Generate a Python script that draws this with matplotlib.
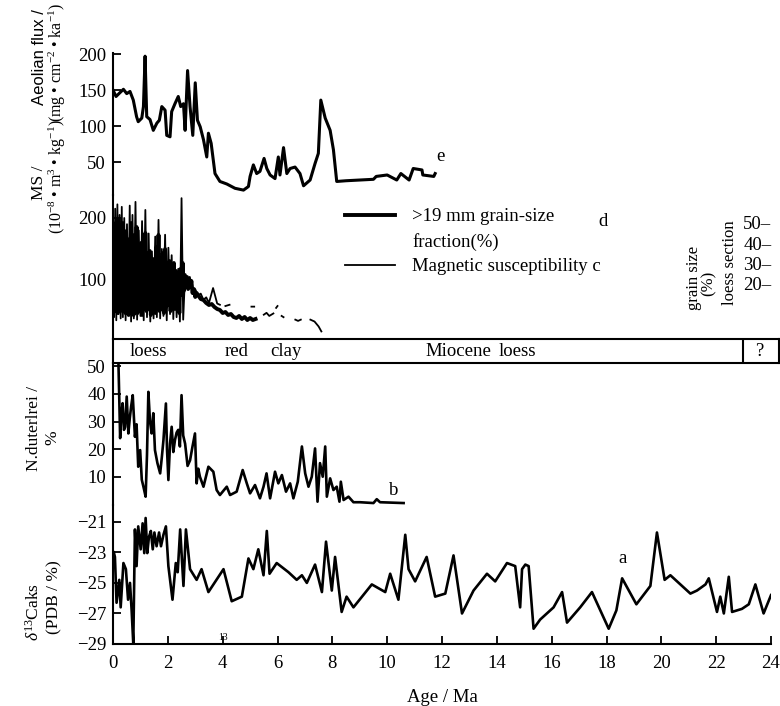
import numpy as np
import matplotlib
matplotlib.use('Agg')
import matplotlib.pyplot as plt

plt.rcParams['font.family'] = ['Liberation Serif', 'DejaVu Serif']
plt.rcParams['mathtext.fontset'] = 'custom'
plt.rcParams['mathtext.rm'] = 'Liberation Serif'
plt.rcParams['mathtext.it'] = 'Liberation Serif:italic'
plt.rcParams['mathtext.bf'] = 'Liberation Serif:bold'
plt.rcParams['axes.linewidth'] = 1.5

# ---- data ----
# e: aeolian flux
e_age = [0.0, 0.11, 0.38, 0.5, 0.62, 0.74, 0.86, 0.92, 1.05, 1.11, 1.17, 1.23, 1.35, 1.47, 1.6, 1.69,
         1.78, 1.9, 1.96, 2.08, 2.14, 2.26, 2.38, 2.47, 2.57, 2.63, 2.72, 2.81, 2.91, 3.0, 3.08, 3.18,
         3.3, 3.42, 3.48, 3.58, 3.72, 3.9, 4.15, 4.45, 4.76, 4.94, 5.0, 5.12, 5.24, 5.36, 5.51, 5.61,
         5.73, 5.91, 6.03, 6.09, 6.22, 6.34, 6.46, 6.64, 6.82, 6.95, 7.19, 7.37, 7.49, 7.58, 7.74, 7.92,
         8.04, 8.16, 8.5, 9.0, 9.5, 9.6, 10.0, 10.35, 10.5, 10.8, 10.95, 11.27, 11.3, 11.7, 11.75]
e_val = [150, 141, 151, 145, 148, 136, 113, 106, 111, 127, 197, 113, 109, 94, 104, 108,
         127, 122, 87, 85, 120, 131, 141, 127, 131, 94, 177, 127, 87, 160, 108, 99,
         81, 57, 90, 76, 34, 23, 19.5, 13.5, 11, 16, 30, 46, 34, 37, 55, 41,
         32, 27, 57, 32, 70, 34, 41, 43, 34, 17, 25, 48, 62, 136, 111, 94,
         67, 23, 24, 25, 26, 30, 32, 25, 34, 25, 41, 39, 32, 30, 34]

# c: magnetic susceptibility (gaps = nan)
nan = np.nan
ms_age = [0.0, 0.04, 0.08, 0.12, 0.16, 0.2, 0.24, 0.28, 0.32, 0.36, 0.41, 0.46, 0.51, 0.56, 0.61, 0.66,
          0.71, 0.76, 0.82, 0.88, 0.94, 1.0, 1.06, 1.12, 1.18, 1.24, 1.3, 1.36, 1.42, 1.48, 1.54, 1.6,
          1.66, 1.72, 1.78, 1.84, 1.9, 1.96, 2.02, 2.08, 2.14, 2.2, 2.26, 2.32, 2.38, 2.44, 2.5, 2.56,
          2.62, 2.7, 2.8, 2.9, 3.0, 3.1, 3.2, 3.3, 3.4, 3.5, 3.65, 3.8, 3.9, 4.0, 4.1, 4.25, 4.3,
          5.05, 5.15, 5.2, 5.5, 5.6, 5.7, 5.85, 5.9, 5.95, 6.0, 6.05, 6.15, 6.22, 6.25,
          6.65, 6.75, 6.85, 6.9, 7.2, 7.35, 7.5, 7.6]
ms_val = [175, 40, 215, 35, 222, 45, 205, 38, 218, 40, 200, 35, 190, 45, 220, 33,
          205, 38, 226, 36, 180, 42, 195, 35, 213, 40, 175, 33, 146, 38, 170, 40,
          197, 38, 150, 42, 173, 35, 152, 45, 140, 37, 125, 40, 118, 33, 232, 36,
          100, 95, 105, 80, 85, 75, 78, 68, 72, 63, 87, 62, 60, nan, 58, 60, nan,
          57, 57, nan, 44, 47, 42, 46, nan, 55, 58, nan, 42, 40, nan,
          36, 34, 36, nan, 36, 33, 25, 17]

# d: >19 um grain-size fraction (%)
gs_age = [0.0, 0.02, 0.05, 0.07, 0.1, 0.12, 0.14, 0.17, 0.2, 0.22, 0.25, 0.28, 0.3, 0.33, 0.36, 0.39,
          0.42, 0.45, 0.48, 0.51, 0.54, 0.57, 0.6, 0.63, 0.66, 0.69, 0.72, 0.75, 0.78, 0.82, 0.86, 0.9,
          0.94, 0.98, 1.02, 1.06, 1.1, 1.14, 1.18, 1.22, 1.26, 1.3, 1.34, 1.38, 1.42, 1.46, 1.5, 1.54,
          1.58, 1.62, 1.66, 1.7, 1.74, 1.78, 1.82, 1.86, 1.9, 1.94, 1.98, 2.02, 2.06, 2.1, 2.14, 2.18,
          2.22, 2.26, 2.3, 2.34, 2.38, 2.42, 2.46, 2.5, 2.54, 2.58, 2.62, 2.66, 2.7, 2.74, 2.78, 2.82,
          2.86, 2.9, 2.95, 3.0, 3.05, 3.1, 3.2, 3.3, 3.4, 3.5, 3.6, 3.7, 3.8, 3.9, 4.0, 4.1,
          4.2, 4.3, 4.4, 4.5, 4.6, 4.7, 4.8, 4.9, 5.0, 5.1, 5.2]
gs_val = [40, 8, 48, 6, 50, 10, 45, 5, 52, 12, 47, 6, 44, 9, 50, 14,
          46, 5, 38, 8, 30, 4, 42, 10, 50, 6, 36, 4, 44, 8, 48, 5,
          35, 10, 40, 4, 42, 9, 45, 6, 30, 12, 36, 4, 28, 9, 32, 5,
          38, 10, 44, 6, 30, 11, 35, 5, 37, 8, 26, 12, 31, 6, 28, 10,
          30, 7, 26, 12, 25, 5, 27, 14, 30, 16, 24, 19, 23, 17, 22, 18,
          21, 15, 17, 13, 15, 14, 12, 11.5, 10, 9, 9.5, 8, 7, 6.5, 5, 5.5,
          4, 4.5, 3, 2.5, 3.5, 2, 3, 1.5, 2.5, 1.5, 2]

# b: N. dutertrei (%)
b_age = [0.2, 0.23, 0.26, 0.3, 0.35, 0.4, 0.44, 0.5, 0.56, 0.61, 0.66, 0.72, 0.8, 0.86, 0.92, 0.99,
         1.05, 1.11, 1.19, 1.24, 1.29, 1.35, 1.41, 1.47, 1.53, 1.62, 1.72, 1.78, 1.84, 1.93, 1.97, 2.02,
         2.08, 2.14, 2.2, 2.26, 2.32, 2.38, 2.44, 2.5, 2.56, 2.63, 2.72, 2.81, 2.9, 2.99, 3.05, 3.11,
         3.17, 3.3, 3.48, 3.66, 3.78, 3.9, 4.15, 4.27, 4.51, 4.73, 4.88, 5.0, 5.18, 5.36, 5.49, 5.6,
         5.73, 5.91, 6.03, 6.16, 6.31, 6.46, 6.58, 6.74, 6.89, 7.01, 7.13, 7.25, 7.37, 7.46, 7.55, 7.65,
         7.74, 7.8, 7.92, 8.04, 8.16, 8.26, 8.31, 8.41, 8.59, 8.77, 9.01, 9.5, 9.62, 9.74, 10.6]
b_val = [50.4, 37.7, 24, 32, 36.6, 27, 28, 39, 25.7, 31, 35.3, 39.5, 24.5, 29, 13.7, 19.7,
         9, 6.5, 2.9, 18, 40.7, 30, 25.7, 33, 19.7, 15, 11.3, 17, 23.3, 36.5, 20, 8.9,
         22, 28.1, 19, 23.3, 26, 27, 21, 39.5, 25, 22, 14, 16, 21, 25.7, 7.7, 13,
         10.1, 6.5, 13.7, 11.9, 5.3, 3.5, 6.5, 3.5, 4.7, 12.5, 7.7, 4.1, 7.1, 2.3, 6.5, 11.3,
         2.3, 11.9, 7.7, 10.7, 4.7, 7.7, 2.3, 8.3, 21, 11.3, 6.5, 10.1, 20.3, 1.1, 15, 10.1,
         21, 2.9, 9.5, 5.3, 6.5, 1.1, 8.3, 1.7, 2.9, 0.9, 0.9, 0.6, 2.0, 0.9, 0.6]

# a: delta13C
a_age = [0.03, 0.07, 0.13, 0.23, 0.28, 0.38, 0.47, 0.55, 0.62, 0.68, 0.74, 0.8, 0.86, 0.92, 1.01, 1.08,
         1.14, 1.19, 1.25, 1.31, 1.38, 1.45, 1.51, 1.59, 1.68, 1.75, 1.84, 1.93, 2.02, 2.17, 2.29, 2.36,
         2.45, 2.57, 2.66, 2.81, 3.05, 3.23, 3.48, 4.03, 4.33, 4.7, 4.94, 5.12, 5.3, 5.49, 5.61, 5.71,
         5.97, 6.4, 6.7, 6.89, 7.07, 7.37, 7.62, 7.77, 7.98, 8.1, 8.34, 8.52, 8.77, 9.44, 9.93, 10.11,
         10.41, 10.66, 10.78, 11.02, 11.44, 11.75, 12.12, 12.42, 12.73, 13.15, 13.64, 13.94, 14.37, 14.67,
         14.85, 14.92, 15.04, 15.16, 15.34, 15.58, 16.07, 16.38, 16.56, 17.04, 17.47, 18.08, 18.36, 18.57,
         19.09, 19.6, 19.84, 20.12, 20.33, 21.06, 21.3, 21.61, 21.73, 22.03, 22.15, 22.28, 22.46, 22.58,
         22.94, 23.19, 23.43, 23.73, 24.0]
a_val = [-23.0, -23.3, -26.3, -24.8, -26.6, -23.7, -24.1, -26.1, -25.0, -26.8, -29.0, -21.5, -23.9, -21.3, -22.8, -21.1,
         -23.05, -20.75, -23.05, -22.0, -21.6, -22.8, -21.7, -22.6, -21.7, -22.6, -21.85, -21.3, -23.9, -26.1, -23.7, -24.3,
         -21.5, -25.2, -21.5, -24.1, -24.8, -24.1, -25.6, -24.1, -26.2, -25.9, -23.4, -24.1, -22.8, -24.5, -21.6, -24.4,
         -23.7, -24.3, -24.8, -24.5, -25.0, -23.8, -25.6, -22.3, -25.5, -23.3, -26.9, -25.9, -26.6, -25.1, -25.6, -24.4,
         -26.1, -21.85, -24.1, -24.9, -23.3, -25.9, -25.7, -23.2, -27.0, -25.5, -24.4, -24.9, -23.7, -23.9,
         -26.6, -24.1, -23.8, -23.9, -28.0, -27.4, -26.6, -25.6, -27.6, -26.6, -25.6, -28.0, -26.8, -24.7,
         -26.4, -25.2, -21.7, -24.8, -24.5, -25.7, -25.5, -25.1, -24.7, -26.9, -25.9, -27.0, -24.6, -26.9,
         -26.7, -26.4, -25.1, -27.0, -25.8]

age_ticks = list(range(0, 25, 2))
e_ticks = [50, 100, 150, 200]
ms_ticks = [100, 200]
gs_ticks = [20, 30, 40, 50]
b_ticks = [10, 20, 30, 40, 50]
a_ticks = [-29, -27, -25, -23, -21]

formations = [(1.28, 'loess'), (4.5, 'red'), (6.3, 'clay'), (12.6, 'Miocene'), (14.75, 'loess'), (23.6, '?')]

# ---- layout (pixels) ----
W, H = 780, 706
FS = 13.5
LS = 11.5


def box(x0, y0, x1, y1):
    return [x0 / W, 1 - y1 / H, (x1 - x0) / W, (y1 - y0) / H]


def ftxt(x, y, s, **kw):
    kw.setdefault('ha', 'center')
    kw.setdefault('va', 'center')
    kw.setdefault('fontsize', FS)
    fig.text(x / W, 1 - y / H, s, **kw)


fig = plt.figure(figsize=(7.8, 7.06), dpi=100)
ax_e = fig.add_axes(box(113, 53, 771, 195))
ax_ms = fig.add_axes(box(113, 195, 771, 339))
ax_f = fig.add_axes(box(113, 339, 779, 363))
ax_b = fig.add_axes(box(113, 363, 771, 505))
ax_a = fig.add_axes(box(113, 505, 771, 644))

for ax in (ax_e, ax_ms, ax_b, ax_a):
    ax.set_xlim(0, 24)
    ax.patch.set_visible(False)
    ax.spines['top'].set_visible(False)
    ax.spines['right'].set_visible(False)
    ax.tick_params(axis='y', direction='in', length=6, width=1.3, labelsize=FS, pad=5)
    if ax is not ax_a:
        ax.spines['bottom'].set_visible(False)
        ax.set_xticks([])

# e
ax_e.plot(e_age, e_val, color='black', lw=2.2)
ax_e.set_ylim(4.2, 201.4)
ax_e.set_yticks(e_ticks)
ax_e.text(11.93, 57, 'e', ha='center', va='center', fontsize=FS)

# c / d
ln_ms, = ax_ms.plot(ms_age, ms_val, color='black', lw=1.3)
ax_ms.set_ylim(4.8, 237.1)
ax_ms.set_yticks(ms_ticks)
ax_gs = ax_ms.twinx()
ln_gs, = ax_gs.plot(gs_age, gs_val, color='black', lw=2.8)
ax_gs.set_ylim(-8, 64)
ax_gs.set_xlim(0, 24)
for s in ax_gs.spines.values():
    s.set_visible(False)
ax_gs.set_yticks(gs_ticks)
ax_gs.set_yticklabels([f'{t}\u2013' for t in gs_ticks])
ax_gs.tick_params(axis='y', length=0, labelsize=FS, pad=-20)

fig.legend([ln_gs, ln_ms], ['>19 mm grain-size', 'Magnetic susceptibility c'],
           loc='upper left', bbox_to_anchor=(345 / W, 1 - 208 / H), frameon=False,
           fontsize=FS, handlelength=2.67, handletextpad=0.9, labelspacing=1.75,
           borderpad=0, borderaxespad=0)
ftxt(412, 242, 'fraction(%)', ha='left')
ftxt(603, 222, 'd')

# formation bar
ax_f.set_xlim(0, 666 / 27.4)
ax_f.set_ylim(0, 1)
ax_f.set_xticks([])
ax_f.set_yticks([])
ax_f.axvline(23.0, color='black', lw=1.5)
for x, s in formations:
    ax_f.text(x, 0.5, s, ha='center', va='center', fontsize=FS)

# b
ax_b.plot(b_age, b_val, color='black', lw=1.9)
ax_b.set_ylim(-0.1, 51.1)
ax_b.set_yticks(b_ticks)
ax_b.text(10.22, 5.3, 'b', ha='center', va='center', fontsize=FS)

# a
ax_a.plot(a_age, a_val, color='black', lw=1.9)
ax_a.set_ylim(-29, -19.9)
ax_a.set_yticks(a_ticks)
ax_a.set_yticklabels([f'\u2212{abs(t)}' for t in a_ticks])
ax_a.set_xticks(age_ticks)
ax_a.tick_params(axis='x', direction='in', length=6, width=1.3, labelsize=FS, pad=8)
ax_a.set_xlabel('Age / Ma', fontsize=FS, labelpad=12)
ax_a.text(18.6, -23.4, 'a', ha='center', va='center', fontsize=FS)
ax_a.text(4.0, -28.6, '13', ha='center', va='center', fontsize=7)

# axis titles
ftxt(39, 57, 'Aeolian flux /', rotation=90, family=['Liberation Sans', 'DejaVu Sans'], fontsize=12)
ftxt(57, 62, '(mg \u2022 cm$^{-2}$ \u2022 ka$^{-1}$)', rotation=90, fontsize=LS)
ftxt(39, 183, 'MS /', rotation=90, fontsize=12.5)
ftxt(57, 177, '(10$^{-8}$ \u2022 m$^{3}$ \u2022 kg$^{-1}$)', rotation=90, fontsize=LS)
ftxt(34, 428, 'N.duterlrei /', rotation=90, fontsize=12.5)
ftxt(52, 438, '%', rotation=90, fontsize=12.5)
ftxt(34, 612, r'$\delta^{13}$Caks', rotation=90, fontsize=12.5)
ftxt(54, 597, '(PDB / %)', rotation=90, fontsize=12.5)
ftxt(694, 278, 'grain size', rotation=90, fontsize=12)
ftxt(709, 283, '(%)', rotation=90, fontsize=12)
ftxt(730, 263, 'loess section', rotation=90, fontsize=12)

fig.savefig('out.png', dpi=100)
